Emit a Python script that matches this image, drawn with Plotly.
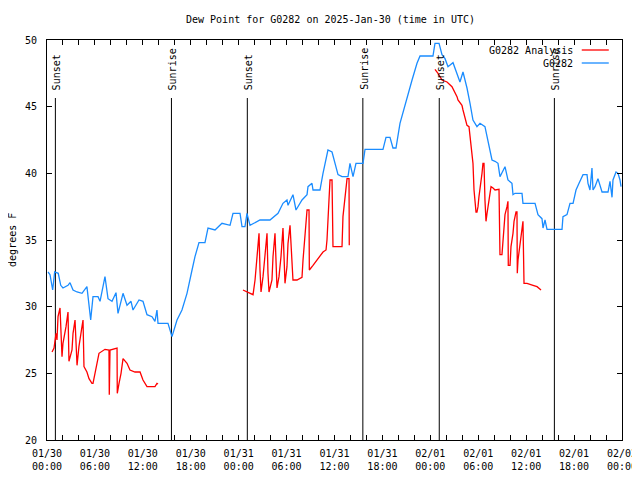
import plotly.graph_objects as go
import pandas as pd

START = pd.Timestamp("2025-01-30 00:00")
END = pd.Timestamp("2025-02-02 00:00")

TITLE = "Dew Point for G0282 on 2025-Jan-30 (time in UTC)"
Y_TITLE = "degrees F"
OBS_NAME = "G0282"
ANA_NAME = "G0282 Analysis"

# Station observations (hours after 2025-01-30 00:00 UTC, dew point F)
obs_hours = [0.13, 0.38, 0.71, 0.96, 1.41, 1.72, 2.0, 2.63, 2.88, 3.26, 3.76, 4.38, 5.0, 5.47,
             5.76, 6.39, 6.64, 7.01, 7.26, 7.64, 8.14, 8.64, 8.89, 9.52, 10.02, 10.52, 10.77,
             11.52, 12.02, 12.52, 13.15, 13.52, 13.77, 13.9, 15.15, 15.65, 16.28, 16.9, 17.53,
             18.16, 18.53, 19.03, 19.78, 20.16, 21.04, 21.91, 22.92, 23.29, 24.17, 24.42, 24.79,
             25.04, 25.42, 26.67, 27.92, 28.93, 29.55, 30.05, 30.18, 30.8, 31.18, 31.93, 32.56,
             32.68, 33.18, 33.31, 34.18, 34.56, 35.18, 35.69, 36.06, 36.44, 36.94, 37.69, 37.94,
             38.32, 38.69, 39.57, 39.82, 42.07, 42.45, 42.95, 43.32, 43.7, 44.2, 45.08, 45.71,
             46.33, 46.71, 48.33, 48.58, 49.09, 49.46, 49.84, 50.21, 50.84, 51.34, 51.71, 52.09,
             52.59, 52.97, 53.34, 53.84, 54.22, 54.84, 55.22, 55.72, 56.1, 56.47, 56.72, 57.35,
             57.72, 58.22, 58.35, 58.6, 59.48, 59.6, 61.11, 61.48, 61.98, 62.11, 62.36, 62.61,
             64.49, 64.61, 65.11, 65.49, 65.87, 66.24, 66.62, 67.12, 67.62, 67.74, 67.99, 68.24,
             68.37, 68.62, 68.99, 69.5, 70.25, 70.5, 70.75, 70.87, 71.25, 71.5, 71.75, 71.88]
obs_dewpt = [32.6, 32.4, 31.25, 32.6, 32.5, 31.6, 31.4, 31.6, 31.8, 31.25, 31.1, 31.0, 31.5, 29.0,
             30.75, 30.75, 30.4, 31.5, 32.25, 30.6, 30.4, 31.05, 29.5, 31.0, 30.1, 30.4, 29.75,
             30.5, 30.4, 29.4, 29.25, 28.9, 29.75, 28.75, 28.75, 27.75, 29.0, 29.75, 31.0,
             32.75, 33.75, 34.8, 34.8, 35.9, 35.75, 36.25, 36.1, 37.0, 37.0, 36.0, 36.0,
             37.0, 36.1, 36.5, 36.5, 37.0, 37.75, 38.0, 37.6, 38.4, 37.25, 38.0, 38.4,
             39.0, 39.25, 38.75, 38.75, 40.0, 41.75, 41.6, 40.75, 39.9, 39.75, 39.75, 40.75,
             39.75, 40.75, 40.75, 41.8, 41.8, 42.7, 42.7, 41.9, 41.9, 43.75, 45.75, 47.0,
             48.25, 48.8, 48.8, 49.75, 49.75, 48.9, 48.6, 48.0, 48.3, 47.5, 46.85, 47.6,
             46.4, 45.25, 44.0, 43.5, 43.75, 43.5, 42.5, 41.0, 40.9, 40.75, 39.75, 40.5,
             39.5, 39.25, 38.4, 38.5, 38.5, 37.75, 37.75, 36.9, 36.6, 35.9, 36.5, 35.8,
             35.8, 36.75, 36.9, 37.75, 37.75, 38.75, 39.25, 39.9, 39.9, 39.25, 38.75, 40.4,
             38.75, 39.0, 39.6, 38.6, 38.6, 39.4, 38.2, 39.5, 40.1, 40.0, 39.5, 39.0]

# Analysis (three segments separated by gaps)
ana_hours = [0.63, 0.88, 1.13, 1.25, 1.38, 1.63, 1.88, 2.0, 2.38, 2.63, 2.75, 3.13, 3.26, 3.51,
             3.76, 4.0, 4.38, 4.51, 4.63, 5.0, 5.26, 5.63, 5.76, 6.01, 6.26, 6.51, 7.26, 7.76,
             7.8, 7.89, 8.77, 8.8, 9.02, 9.27, 9.52, 10.02, 10.39, 11.02, 11.65, 12.02, 12.52,
             13.52, 13.77, 13.9,
             None,
             24.54, 25.04, 25.8, 26.05, 26.3, 26.42, 26.55, 26.67, 26.8, 27.05, 27.3, 27.55,
             27.67, 27.8, 28.17, 28.3, 28.55, 28.8, 29.05, 29.3, 29.55, 29.8, 30.05, 30.18,
             30.43, 30.8, 31.3, 31.93, 32.06, 32.31, 32.56, 32.81, 32.85, 33.31, 34.18, 34.56,
             34.94, 35.06, 35.31, 35.44, 35.69, 35.81, 36.94, 37.06, 37.57, 37.82, 37.85,
             None,
             48.58, 48.96, 49.46, 50.09, 50.71, 51.09, 51.34, 51.46, 51.96, 52.09, 52.34, 52.59,
             52.84, 53.09, 53.34, 53.47, 53.59, 53.72, 53.84, 53.97, 54.09, 54.34, 54.47, 54.59,
             54.72, 54.84, 54.97, 55.1, 55.22, 55.35, 55.47, 55.6, 55.85, 56.1, 56.6, 56.72,
             56.97, 57.1, 57.22, 57.35, 57.6, 57.72, 57.76, 57.98, 58.1, 58.35, 58.48, 58.73,
             58.85, 58.89, 58.98, 59.23, 59.48, 59.6, 59.73, 60.11, 60.86, 61.36, 61.86]
ana_dewpt = [26.6, 26.9, 28.0, 27.5, 29.25, 29.9, 26.25, 27.25, 28.5, 29.6, 25.9, 26.75, 28.0, 29.0,
             25.6, 27.0, 28.5, 29.0, 25.5, 25.1, 24.6, 24.25, 24.25, 25.0, 25.75, 26.5, 26.8, 26.75,
             23.4, 26.75, 26.9, 23.5, 24.25, 25.0, 26.1, 25.75, 25.25, 25.1, 25.1, 24.5, 24.0,
             24.0, 24.25, 24.2,
             None,
             31.25, 31.1, 30.9, 32.0, 33.5, 34.25, 35.5, 32.75, 31.1, 32.25, 33.75, 35.5,
             32.5, 31.1, 32.0, 33.75, 35.5, 31.4, 32.25, 33.75, 35.9, 31.75, 33.0, 34.75,
             36.1, 32.0, 32.0, 32.2, 33.5, 35.75, 37.25, 37.25, 32.75, 33.1, 33.75, 34.1,
             34.25, 35.0, 38.0, 39.5, 39.5, 34.5, 34.5, 36.75, 39.6, 39.6, 34.6,
             None,
             47.8, 47.5, 47.0, 46.85, 46.5, 46.1, 45.75, 45.5, 45.1, 44.75, 44.1, 43.6,
             43.5, 42.0, 40.75, 38.75, 37.75, 37.1, 37.1, 37.5, 38.25, 39.25, 40.0, 40.75,
             40.75, 38.0, 36.4, 37.0, 37.5, 38.25, 38.6, 39.0, 38.9, 38.75, 38.8, 33.9,
             33.9, 35.0, 36.0, 36.9, 37.5, 37.9, 33.1, 33.1, 34.5, 35.5, 36.4, 37.1,
             37.1, 32.5, 33.5, 34.6, 35.75, 36.4, 31.75, 31.75, 31.6, 31.5, 31.25]

event_times = ["2025-01-30 01:03", "2025-01-30 15:35", "2025-01-31 01:05",
               "2025-01-31 15:33", "2025-02-01 01:07", "2025-02-01 15:32"]
event_labels = ["Sunset", "Sunrise", "Sunset", "Sunrise", "Sunset", "Sunrise"]

RED = "#ff0000"
BLUE = "#1a8cff"
FONT = "DejaVu Sans Mono"


def to_times(hours):
    return [START + pd.Timedelta(hours=h) if h is not None else None for h in hours]


fig = go.Figure()
fig.add_trace(go.Scatter(x=to_times(ana_hours), y=ana_dewpt, mode="lines", name=ANA_NAME,
                         line=dict(color=RED, width=1.3), connectgaps=False))
fig.add_trace(go.Scatter(x=to_times(obs_hours), y=obs_dewpt, mode="lines", name=OBS_NAME,
                         line=dict(color=BLUE, width=1.3)))

# Sunrise / sunset markers
for t, lab in zip(event_times, event_labels):
    fig.add_shape(type="line", xref="x", yref="paper", x0=t, x1=t, y0=0, y1=0.855,
                  line=dict(color="black", width=1), layer="below")
    fig.add_annotation(x=t, xref="x", y=0.87, yref="paper", text=lab, textangle=-90,
                       showarrow=False, xanchor="center", yanchor="bottom", xshift=1,
                       font=dict(family=FONT, size=10, color="black"))

# Title and y-axis label
fig.add_annotation(text=TITLE, xref="paper", yref="paper", x=0.493, y=1.05,
                   showarrow=False, xanchor="center", yanchor="middle",
                   font=dict(family=FONT, size=10, color="black"))
fig.add_annotation(text=Y_TITLE, xref="paper", yref="paper", x=-0.061, y=0.5,
                   showarrow=False, xanchor="center", yanchor="middle", textangle=-90,
                   font=dict(family=FONT, size=10, color="black"))

# Hand-made gnuplot-style legend (text right, sample line to the right)
for name, color, ypos in [(ANA_NAME, RED, 0.975), (OBS_NAME, BLUE, 0.9425)]:
    fig.add_annotation(text=name, xref="paper", yref="paper", x=0.9183, y=ypos,
                       showarrow=False, xanchor="right", yanchor="middle",
                       font=dict(family=FONT, size=10, color="black"))
    fig.add_shape(type="line", xref="paper", yref="paper", x0=0.930, x1=0.977,
                  y0=ypos, y1=ypos, line=dict(color=color, width=1.3))

# The page body adds an 8px offset, so margins compensate for it.
fig.update_layout(
    width=640, height=480,
    margin=dict(l=39, r=26, t=32, b=48, autoexpand=False),
    paper_bgcolor="white", plot_bgcolor="white",
    font=dict(family=FONT, size=10, color="black"),
    showlegend=False,
)
fig.update_xaxes(
    type="date", range=[START, END], automargin=False,
    tick0=START, dtick=6 * 3600 * 1000, tickformat="%m/%d<br>%H:%M",
    ticks="inside", ticklen=5, tickcolor="black", tickwidth=1,
    showline=True, linecolor="black", linewidth=1, mirror="allticks",
    showgrid=False, zeroline=False, ticklabelstandoff=4,
    minor=dict(dtick=2 * 3600 * 1000, tick0=START, ticks="inside", ticklen=5,
               tickcolor="black", tickwidth=1, showgrid=False),
)
fig.update_yaxes(
    range=[20, 50], dtick=5, tick0=20, automargin=False,
    ticks="inside", ticklen=5, tickcolor="black", tickwidth=1,
    showline=True, linecolor="black", linewidth=1, mirror="allticks",
    showgrid=False, zeroline=False, ticklabelstandoff=7,
)

fig.write_html("out.html")
